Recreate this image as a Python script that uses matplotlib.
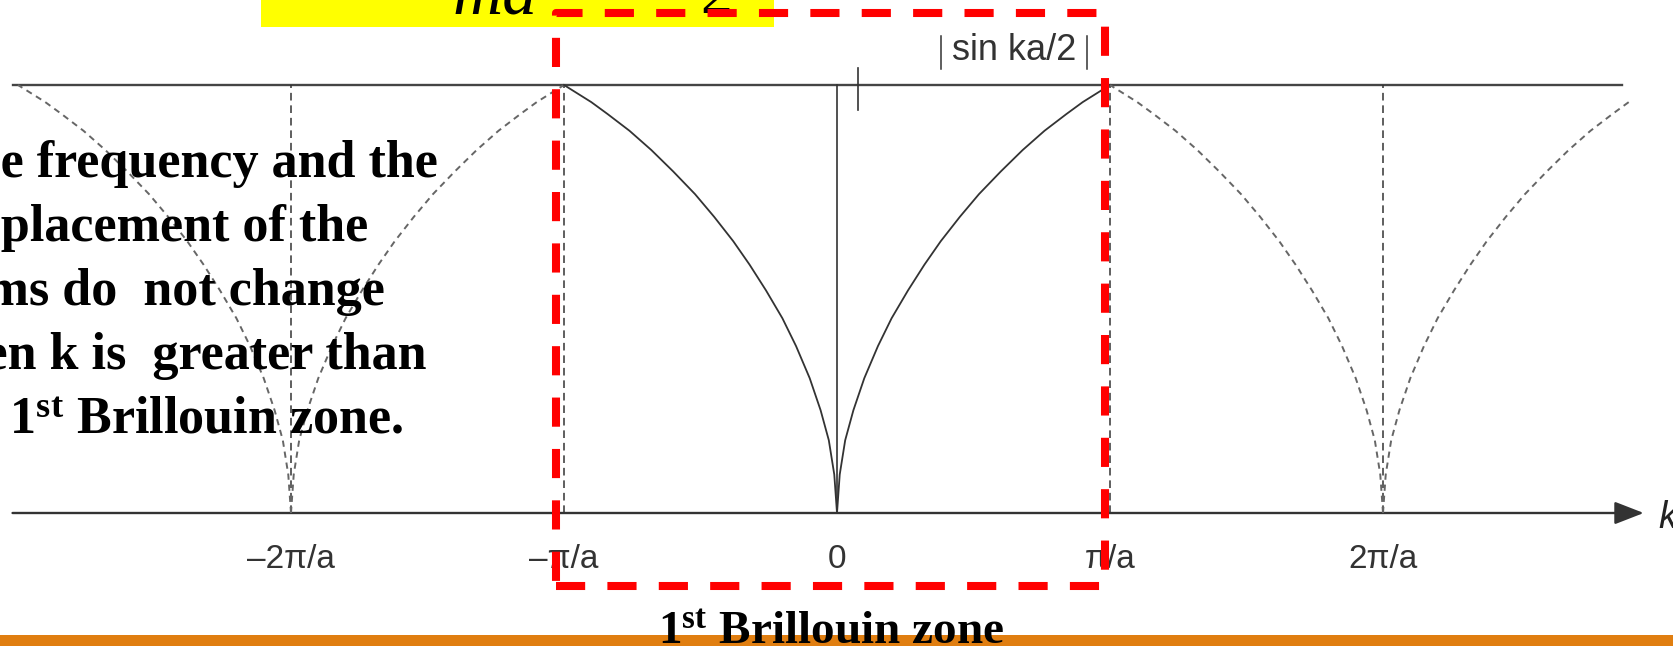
import matplotlib
matplotlib.use('Agg')
import matplotlib.pyplot as plt
from matplotlib.patches import Rectangle
import numpy as np

W, H = 1673, 646

# one branch of the dispersion curve from k = 0 to k = pi/a
# (k in units of pi/a, frequency scaled to its maximum)
k_branch = [0.0, 0.01, 0.03, 0.06, 0.10, 0.15, 0.20, 0.26, 0.32, 0.38,
            0.45, 0.52, 0.60, 0.68, 0.76, 0.84, 0.90, 0.95, 1.0]
w_branch = [0.0, 0.09, 0.17, 0.24, 0.315, 0.39, 0.455, 0.52, 0.58, 0.635,
            0.692, 0.745, 0.798, 0.848, 0.893, 0.932, 0.96, 0.98, 1.0]

zone_centres = [-2, 0, 2]
boundaries = [-2, -1, 1, 2]
tick_pos = [-2, -1, 0, 1, 2]
tick_labels = ['\u20132\u03c0/a', '\u2013\u03c0/a', '0', '\u03c0/a', '2\u03c0/a']

note_lines = ['The frequency and the',
              'displacement of the',
              'atoms do  not change',
              'when k is  greater than',
              r'the 1$^{\mathrm{st}}$ Brillouin zone.']

plt.rcParams['lines.scale_dashes'] = False
plt.rcParams['mathtext.fontset'] = 'custom'
plt.rcParams['mathtext.rm'] = 'Liberation Serif:bold'
plt.rcParams['mathtext.bf'] = 'Liberation Serif:bold'
plt.rcParams['mathtext.it'] = 'Liberation Serif:bold:italic'


def px(x, y):
    # pixel position (from top left) -> figure fraction
    return x / W, 1 - y / H


fig = plt.figure(figsize=(W / 100, H / 100), dpi=100)
ax = fig.add_axes([0, 0, 1, 1])
ax.axis('off')

x0, unit_x = 837, 273   # pixel of k = 0, pixels per pi/a
y0, unit_y = 513, 428   # pixel of omega = 0, pixels per omega_max
ax.set_xlim(-x0 / unit_x, (W - x0) / unit_x)
ax.set_ylim(-(H - y0) / unit_y, y0 / unit_y)

ink = '#333333'
k_b = np.array(k_branch)
w_b = np.array(w_branch)

# curve in the first zone solid, repeated zones dashed
for c in zone_centres:
    for s in (-1, 1):
        xs = c + s * k_b
        keep = (xs >= -3.0) & (xs <= 2.9)
        if c == 0:
            ax.plot(xs[keep], w_b[keep], color=ink, lw=1.3, zorder=3)
        else:
            ax.plot(xs[keep], w_b[keep], color='#666666', lw=1.4,
                    dashes=(4.5, 3.5), zorder=3)

# top line at omega_max and k axis with arrow
ax.plot([-3.02, 2.875], [1, 1], color='#444444', lw=1.7, zorder=2)
ax.annotate('', xy=(2.955, 0), xytext=(-3.02, 0),
            arrowprops=dict(arrowstyle='-|>,head_length=0.9,head_width=0.35',
                            color=ink, lw=1.7, mutation_scale=20,
                            shrinkA=0, shrinkB=0), zorder=2)
ax.text(3.01, -0.035, 'k', fontsize=27, style='italic',
        family='Liberation Sans', color='#222222', va='baseline', ha='left')

# vertical markers
ax.plot([0, 0], [0, 1], color=ink, lw=1.2, zorder=2)
ax.plot([0.077, 0.077], [0.942, 1.04], color=ink, lw=1.2, zorder=2)
for b in boundaries:
    ax.plot([b, b], [0, 1], color='#333333', lw=1.1, dashes=(5.5, 3.5), zorder=2)

for p, lab in zip(tick_pos, tick_labels):
    ax.text(p, -0.108, lab, fontsize=24, family='Liberation Sans',
            color=ink, ha='center', va='center')

# curve label with modulus bars
fig.text(*px(1014, 51), 'sin ka/2', fontsize=26, family='Liberation Sans',
         color=ink, ha='center', va='center')
for bx in (941, 1087):
    fig.lines.append(plt.Line2D([bx / W, bx / W], [1 - 36 / H, 1 - 69 / H],
                                transform=fig.transFigure, color=ink, lw=1.1))

# highlighted formula strip at the top
fig.patches.append(Rectangle(px(261, 27), 513 / W, 27 / H, transform=fig.transFigure,
                             facecolor='#ffff00', edgecolor='none', zorder=0))
fig.text(*px(452, 13), 'ma', fontsize=50, style='italic', family='Liberation Serif',
         color='black', va='baseline', ha='left', zorder=1)
fig.text(*px(700, 13), '2', fontsize=46, family='Liberation Serif',
         color='black', va='baseline', ha='left', zorder=1)

# explanatory note on the left, running off the edge
note_x = [-63, -63, -84, -82, -73]
for i, (line, nx) in enumerate(zip(note_lines, note_x)):
    fig.text(*px(nx, 177 + 64 * i), line, fontsize=37.5, family='Liberation Serif',
             weight='bold', color='black', va='baseline', ha='left', zorder=4)

# first Brillouin zone box
fig.patches.append(Rectangle(px(556, 586), 549 / W, 573 / H, transform=fig.transFigure,
                             facecolor='none', edgecolor='#ff0000', lw=5.8,
                             linestyle=(0, (21, 16)), joinstyle='round', zorder=5))

# orange bar along the bottom edge
fig.patches.append(Rectangle((0, 0), 1, 11 / H, transform=fig.transFigure,
                             facecolor='#e07e10', edgecolor='none', zorder=5))
fig.text(*px(831, 643), r'1$^{\mathrm{st}}$ Brillouin zone', fontsize=34,
         family='Liberation Serif', weight='bold', color='black',
         ha='center', va='baseline', zorder=6)

fig.savefig('out.png', dpi=100)
